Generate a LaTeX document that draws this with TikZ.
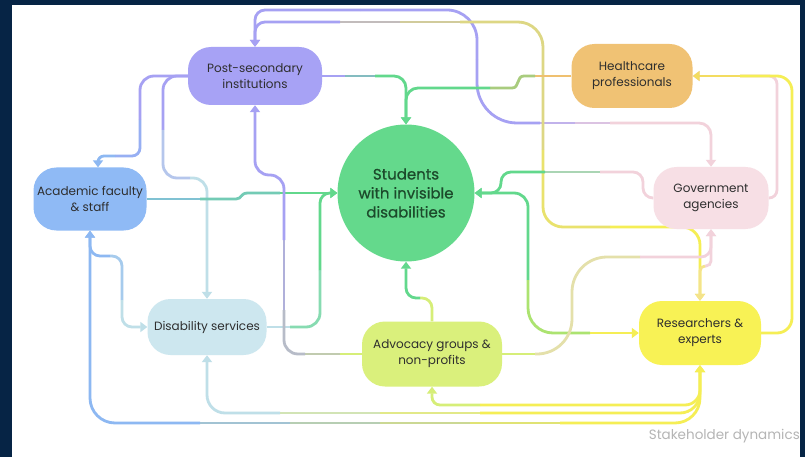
\documentclass[tikz,border=0pt]{standalone}
\usepackage{fontspec}
\setmainfont{Poppins}
\newfontfamily\studfont{Poppins}[FakeBold=0.7]
\usetikzlibrary{arrows.meta}
\pgfdeclarelayer{back}
\pgfdeclarelayer{lines}
\pgfsetlayers{back,lines,main}
\definecolor{navy}{HTML}{062445}
\definecolor{cPost}{HTML}{A7A2F5}
\definecolor{cAcad}{HTML}{8FBAF5}
\definecolor{cStud}{HTML}{64D98C}
\definecolor{cHealth}{HTML}{F0C274}
\definecolor{cGov}{HTML}{F7DFE5}
\definecolor{cDis}{HTML}{CDE7EF}
\definecolor{cAdv}{HTML}{DAF07C}
\definecolor{cRes}{HTML}{F8F255}
\definecolor{lPost}{HTML}{A6A1F3}
\definecolor{lAcad}{HTML}{8DB8F2}
\definecolor{lStud}{HTML}{62D88C}
\definecolor{lHealth}{HTML}{EFC070}
\definecolor{lGov}{HTML}{F2D2DB}
\definecolor{lDis}{HTML}{BFDFE8}
\definecolor{lAdv}{HTML}{D6EE78}
\definecolor{lRes}{HTML}{F5EE55}
\definecolor{txt}{HTML}{2E2E2E}
\definecolor{stxt}{HTML}{1C4A2B}
\definecolor{captxt}{HTML}{B5B5B5}
\begin{document}
\begin{tikzpicture}[x=1pt,y=-1pt,
  box/.style={rounded corners=23pt, align=center, text=txt, inner sep=2pt,
    font=\fontsize{12}{16}\selectfont},
  conn/.style={line width=2.8pt},
  >={Triangle[width=10pt,length=7pt]}]
\begin{pgfonlayer}{back}
\fill[navy] (0,0) rectangle (805,457);
\fill[white] (12,5) rectangle (800,457);
\end{pgfonlayer}
\useasboundingbox (0,0) rectangle (805,457);

% nodes
\node[box, fill=cPost, minimum width=134pt, minimum height=58pt] (post) at (255,76) {Post-secondary\\institutions};
\node[box, fill=cAcad, minimum width=113pt, minimum height=63pt] (acad) at (90,199) {Academic faculty\\\& staff};
\node[circle, fill=cStud, minimum size=137pt, inner sep=0pt, align=center, text=stxt,
  font=\studfont\fontsize{15}{19}\selectfont] (stud) at (406,193) {Students\\with invisible\\disabilities};
\node[box, fill=cHealth, minimum width=121pt, minimum height=64pt] (health) at (632,76) {Healthcare\\professionals};
\node[box, fill=cGov, minimum width=115pt, minimum height=62pt] (gov) at (711,198) {Government\\agencies};
\node[box, fill=cDis, minimum width=119pt, minimum height=56pt] (dis) at (207,327) {Disability services};
\node[box, fill=cAdv, minimum width=140pt, minimum height=65pt] (adv) at (432,354) {Advocacy groups \&\\non-profits};
\node[box, fill=cRes, minimum width=122pt, minimum height=64pt] (res) at (700,333) {Researchers \&\\experts};
\node[text=captxt, font=\fontsize{13.5}{15}\selectfont, anchor=east, inner sep=0pt] (cap) at (800,436) {Stakeholder dynamics};

\coordinate (e3) at (98,156);

\begin{pgfonlayer}{lines}
% R acad <-> res (bottom outer)
\draw[conn, lAcad, <-, rounded corners=25pt] (acad.south) -- (90,423) -- (200,423);
\draw[conn, lAcad!80!lRes] (200,423) -- (290,423);
\draw[conn, lAcad!60!lRes] (290,423) -- (380,423);
\draw[conn, lAcad!40!lRes] (380,423) -- (470,423);
\draw[conn, lAcad!20!lRes] (470,423) -- (560,423);
\draw[conn, lRes, ->, rounded corners=25pt] (560,423) -- (700,423) -- (res.south);
% S dis <-> res
\draw[conn, lDis, <-, rounded corners=18pt] (dis.south) -- (207,413) -- (280,413);
\draw[conn, lDis!65!lRes] (280,413) -- (380,413);
\draw[conn, lDis!35!lRes] (380,413) -- (480,413);
\draw[conn, lRes, ->, rounded corners=20pt] (480,413) -- (700,413) -- (res.south);
% T adv <-> res
\draw[conn, lAdv, <-, rounded corners=8pt] (adv.south) -- (432,405) -- (480,405);
\draw[conn, lRes, ->, rounded corners=15pt] (480,405) -- (700,405) -- (res.south);
% Q acad <-> dis
\draw[conn, lAcad, <-, rounded corners=10pt] (acad.south) -- (90,256) -- (110,256);
\draw[conn, lAcad!50!lDis, rounded corners=10pt] (110,256) -- (122,256) -- (122,300);
\draw[conn, lDis, ->, rounded corners=10pt] (122,300) -- (122,327) -- (dis.west);
% A post <-> gov
\draw[conn, lPost, <-, rounded corners=10pt] (post.north) -- (255,10) -- (360,10);
\draw[conn, lPost, rounded corners=30pt] (360,10) -- (477,10) -- (477,60);
\draw[conn, lPost, rounded corners=40pt] (477,60) -- (477,123) -- (540,123);
\draw[conn, lPost!65!lGov] (540,123) -- (575,123);
\draw[conn, lPost!30!lGov] (575,123) -- (610,123);
\draw[conn, lGov, ->, rounded corners=12pt] (610,123) -- (711,123) -- (gov.north);
% B post <-> res
\draw[conn, lPost, <-, rounded corners=10pt] (post.north) -- (255,22) -- (340,22);
\draw[conn, lPost!65!lRes] (340,22) -- (400,22);
\draw[conn, lPost!45!lRes] (400,22) -- (460,22);
\draw[conn, lPost!30!lRes, rounded corners=25pt] (460,22) -- (543,22) -- (543,150);
\draw[conn, lPost!15!lRes, rounded corners=20pt] (543,150) -- (543,227) -- (610,227);
\draw[conn, lRes, ->, rounded corners=18pt] (610,227) -- (700,227) -- (res.north);
% C health -> stud
\draw[conn, lHealth] (health.west) -- (535,76);
\draw[conn, lHealth!50!lStud] (535,76) -- (524,76) .. controls (516,76) and (520,88) .. (512,88) -- (490,88);
\draw[conn, lStud, ->, rounded corners=12pt] (490,88) -- (406,88) -- (stud.north);
% D post -> stud
\draw[conn, lPost] (post.east) -- (345,76);
\draw[conn, lPost!50!lStud] (345,76) -- (375,76);
\draw[conn, lStud, ->, rounded corners=12pt] (375,76) -- (406,76) -- (stud.north);
% E post -> acad
\draw[conn, lPost, rounded corners=14pt] (post.west) -- (140,76) -- (140,120);
\draw[conn, lPost!40!lAcad, rounded corners=8pt] (140,120) -- (140,156) -- (115,156);
\draw[conn, lAcad, ->, rounded corners=6pt] (115,156) -- (e3) -- (e3 |- acad.north);
% F post -> dis
\draw[conn, lPost, rounded corners=14pt] (post.west) -- (163,76) -- (163,130);
\draw[conn, lPost!40!lDis, rounded corners=14pt] (163,130) -- (163,178) -- (190,178);
\draw[conn, lDis, ->, rounded corners=14pt] (190,178) -- (207,178) -- (dis.north);
% G acad -> stud
\draw[conn, lAcad!70!lStud] (acad.east) -- (200,199);
\draw[conn, lAcad!40!lStud] (200,199) -- (236,199) .. controls (242,199) and (240,193) .. (248,193) -- (280,193);
\draw[conn, lStud, ->] (280,193) -- (stud.west);
% H dis -> stud
\draw[conn, lDis] (dis.east) -- (290,327);
\draw[conn, lDis!40!lStud, rounded corners=14pt] (290,327) -- (320,327) -- (320,270);
\draw[conn, lStud, ->, rounded corners=10pt] (320,270) -- (320,193) -- (stud.west);
% I adv -> post
\draw[conn, lAdv] (adv.west) -- (340,354);
\draw[conn, lAdv!55!lPost] (340,354) -- (305,354);
\draw[conn, lAdv!35!lPost, rounded corners=14pt] (305,354) -- (284,354) -- (284,310);
\draw[conn, lAdv!20!lPost] (284,310) -- (284,240);
\draw[conn, lPost, ->, rounded corners=14pt] (284,240) -- (284,175) -- (255,175) -- (post.south);
% J adv -> stud
\draw[conn, lAdv, rounded corners=10pt] (adv.north) -- (432,298) -- (420,298);
\draw[conn, lStud, ->, rounded corners=10pt] (420,298) -- (406,298) -- (stud.south);
% K gov -> stud
\draw[conn, lGov, rounded corners=10pt] (gov.west) -- (643,198) -- (643,172) -- (600,172);
\draw[conn, lGov!50!lStud] (600,172) -- (545,172);
\draw[conn, lStud, ->, rounded corners=10pt] (545,172) -- (501,172) -- (501,193) -- (stud.east);
% L stud <-> res
\draw[conn, lStud, <-, rounded corners=14pt] (stud.east) -- (528,193) -- (528,280);
\draw[conn, lStud!50!lRes, rounded corners=25pt] (528,280) -- (528,333) -- (590,333);
\draw[conn, lRes, ->] (590,333) -- (res.west);
% O adv -> gov
\draw[conn, lAdv] (adv.east) -- (535,354);
\draw[conn, lAdv!50!lGov, rounded corners=35pt] (535,354) -- (572,354) -- (572,257) -- (640,257);
\draw[conn, lGov, ->, rounded corners=10pt] (640,257) -- (711,257) -- (gov.south);
% P gov <-> res
\draw[conn, lGov, <-, rounded corners=5pt] (gov.south) -- (711,266) -- (705,266);
\draw[conn, lGov!40!lRes, ->, rounded corners=5pt] (705,266) -- (700,266) -- (res.north);
% M gov -> health
\draw[conn, lGov, rounded corners=8pt] (gov.east) -- (777,198) -- (777,76) -- (740,76);
\draw[conn, lGov, ->] (740,76) -- (health.east);
% N res -> health
\draw[conn, lRes, rounded corners=15pt] (res.east) -- (792,333) -- (792,76) -- (740,76);
\draw[conn, lRes!60!lHealth, ->] (740,76) -- (health.east);
\end{pgfonlayer}
\end{tikzpicture}
\end{document}
